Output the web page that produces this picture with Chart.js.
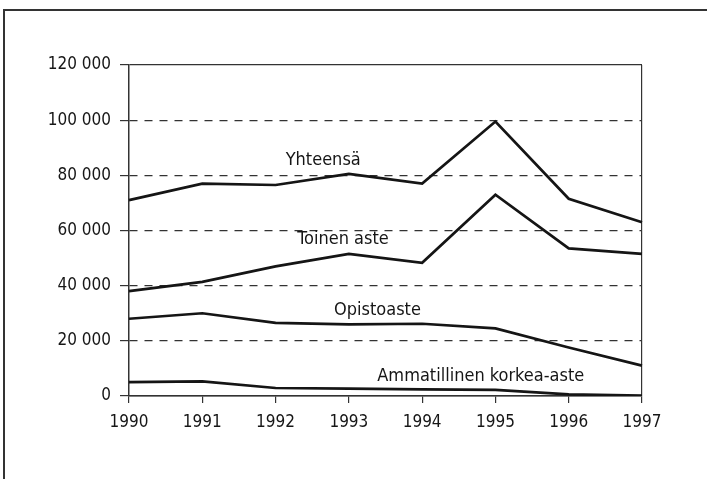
<!DOCTYPE html>
<html>
<head>
<meta charset="utf-8">
<script src="https://cdn.jsdelivr.net/npm/chart.js@4/dist/chart.umd.min.js"></script>
<style>
  html, body { margin: 0; padding: 0; background: #fff; overflow: hidden; }
  #wrap { position: relative; width: 707px; height: 479px; }
  #frame { position: absolute; left: 3px; top: 9px; width: 702px; height: 480px;
           border-top: 2px solid #333; border-left: 2px solid #333; border-right: 1px solid #ccc; }
  canvas { position: absolute; left: 0; top: 0; }
</style>
</head>
<body>
<div id="wrap">
  <div id="frame"></div>
  <canvas id="myChart" width="707" height="479"></canvas>
</div>
<script>
var years = ['1990', '1991', '1992', '1993', '1994', '1995', '1996', '1997'];

var yhteensa = [71000, 77000, 76500, 80500, 77000, 99500, 71500, 63000];
var toinenAste = [38000, 41400, 47000, 51500, 48300, 73000, 53500, 51500];
var opistoaste = [28000, 30000, 26500, 26000, 26200, 24500, 17600, 11000];
var ammatillinen = [5000, 5300, 2900, 2700, 2400, 2200, 600, 100];

var seriesNames = ['Yhteensä', 'Toinen aste', 'Opistoaste', 'Ammatillinen korkea-aste'];
// where each name sits, in chart units (category index, value)
var labelX = [2.65, 2.92, 3.39, 4.80];
var labelY = [85300, 56800, 31200, 7300];

var yTicks = [0, 20000, 40000, 60000, 80000, 100000, 120000];
var yTickLabels = ['0', '20 000', '40 000', '60 000', '80 000', '100 000', '120 000'];

var fontFamily = "'DejaVu Sans Condensed', 'Liberation Sans', sans-serif";
var ink = '#161616';

// series names written on the plot
var seriesLabels = {
    id: 'seriesLabels',
    afterDatasetsDraw: function(chart) {
        var ctx = chart.ctx;
        var xs = chart.scales.x, ys = chart.scales.y;
        ctx.save();
        ctx.font = '18px ' + fontFamily;
        ctx.fillStyle = ink;
        ctx.textAlign = 'center';
        ctx.textBaseline = 'middle';
        seriesNames.forEach(function(name, i) {
            ctx.fillText(name, xs.getPixelForValue(labelX[i]), ys.getPixelForValue(labelY[i]));
        });
        ctx.restore();
    }
};

function line(values) {
    return {
        data: values,
        borderColor: '#151515',
        borderWidth: 2.7,
        pointRadius: 0,
        tension: 0,
        fill: false
    };
}

var ctx = document.getElementById('myChart');
var myChart = new Chart(ctx, {
    type: 'line',
    data: {
        labels: years,
        datasets: [line(yhteensa), line(toinenAste), line(opistoaste), line(ammatillinen)]
    },
    plugins: [seriesLabels],
    options: {
        responsive: false,
        animation: false,
        layout: { padding: { top: 65, right: 65, bottom: 0, left: 0 } },
        plugins: { legend: { display: false }, tooltip: { enabled: false } },
        scales: {
            x: {
                offset: false,
                afterFit: function(scale) { scale.height = 83; },
                grid: {
                    color: function(c) { return c.index === years.length - 1 ? '#333' : 'transparent'; },
                    tickColor: '#333',
                    tickLength: 7,
                    lineWidth: 1.2
                },
                border: { display: true, color: '#333', width: 1.5 },
                ticks: { color: ink, font: { family: fontFamily, size: 17 }, padding: 9, maxRotation: 0 }
            },
            y: {
                min: 0,
                max: 120000,
                afterFit: function(scale) { scale.width = 129; },
                afterBuildTicks: function(scale) {
                    scale.ticks = yTicks.map(function(v) { return { value: v }; });
                },
                grid: {
                    color: '#333',
                    tickColor: '#333',
                    tickLength: 9,
                    lineWidth: 1.2
                },
                border: {
                    display: true,
                    color: '#333',
                    width: 1.5,
                    dash: function(c) {
                        if (!c.tick) return [];
                        return (c.tick.value === 0 || c.tick.value === 120000) ? [] : [8, 7];
                    }
                },
                ticks: {
                    color: ink,
                    font: { family: fontFamily, size: 17 },
                    padding: 9,
                    callback: function(v) {
                        var i = yTicks.indexOf(v);
                        return i >= 0 ? yTickLabels[i] : '';
                    }
                }
            }
        }
    }
});
</script>
</body>
</html>
